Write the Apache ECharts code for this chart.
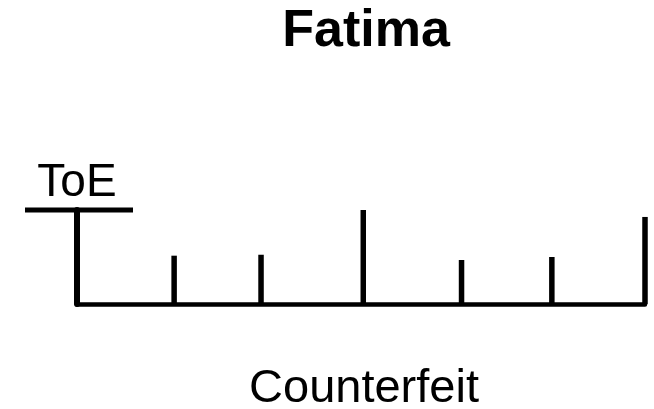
<!DOCTYPE html>
<html>
<head>
<meta charset="utf-8">
<script src="https://cdn.jsdelivr.net/npm/echarts@6/dist/echarts.min.js"></script>
<style>html,body{margin:0;padding:0;background:#fff}#c{width:654px;height:409px}</style>
</head>
<body>
<div id="c"></div>
<script>
var titleText = "Fatima";
var xName = "Counterfeit";
var yName = "ToE";
var xValues = [17.1, 32.4, 50.4, 67.7, 83.6, 100];
var yValues = [0.514, 0.524, 1.0, 0.468, 0.5, 0.926];

var chart = echarts.init(document.getElementById('c'), null, {renderer: 'canvas'});
var barData = xValues.map(function (x, i) { return [x, yValues[i]]; });
var font = '"Liberation Sans", Arial, sans-serif';
chart.setOption({
  animation: false,
  backgroundColor: '#fff',
  title: {
    text: titleText, left: 361, top: 1, textAlign: 'center',
    textStyle: {fontFamily: font, fontWeight: 'bold', fontSize: 52, color: '#000'}
  },
  grid: {left: 77, right: 9, top: 210, bottom: 105, containLabel: false, outerBoundsMode: 'none'},
  xAxis: {
    type: 'value', min: 0, max: 100,
    name: xName, nameLocation: 'middle', nameGap: 62,
    nameTextStyle: {fontFamily: font, fontSize: 47, color: '#000', padding: [0, 0, 0, 6]},
    axisLine: {show: true, onZero: false, lineStyle: {color: '#000', width: 4.5}},
    axisTick: {show: false}, axisLabel: {show: false}, splitLine: {show: false}
  },
  yAxis: {
    type: 'value', min: 0, max: 1,
    name: yName, nameLocation: 'end', nameGap: 4,
    nameTextStyle: {fontFamily: font, fontSize: 46, color: '#000', align: 'center'},
    axisLine: {show: true, lineStyle: {color: '#000', width: 6}},
    axisTick: {show: false}, axisLabel: {show: false}, splitLine: {show: false}
  },
  graphic: [{
    type: 'line', shape: {x1: 25, y1: 210, x2: 133, y2: 210},
    style: {stroke: '#000', lineWidth: 5}
  }],
  series: [{
    type: 'bar', data: barData, barWidth: 5.5,
    itemStyle: {color: '#000'}
  }]
});
</script>
</body>
</html>
